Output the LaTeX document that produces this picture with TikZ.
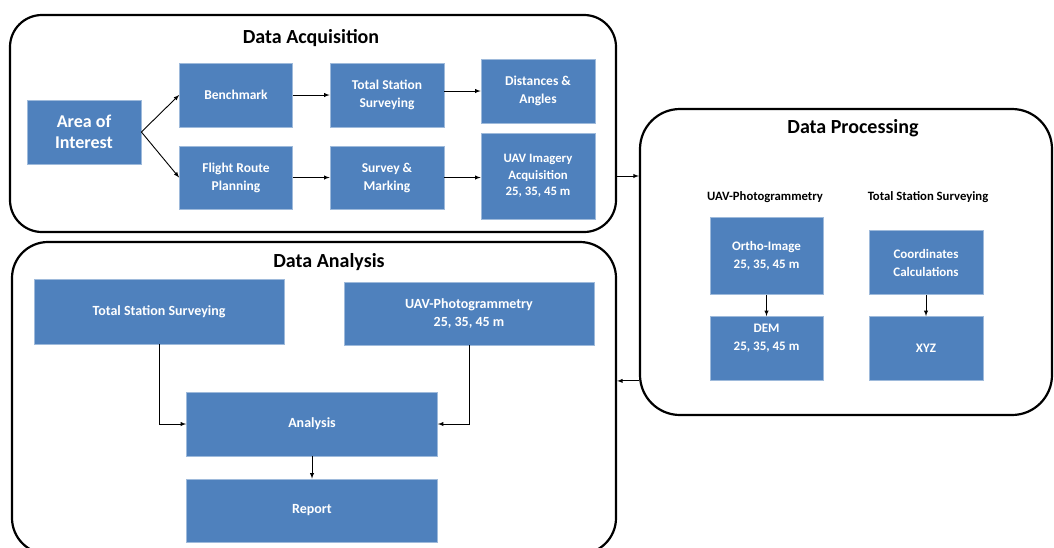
\documentclass[tikz,border=0pt]{standalone}
\usepackage{fontspec}
\setmainfont{Carlito}
\usetikzlibrary{arrows,shapes}
\usepackage{xcolor}
\definecolor{boxblue}{HTML}{4F81BD}

\begin{document}
\begin{tikzpicture}[x=1pt,y=-1pt]
\tikzstyle{every node}+=[inner sep=0pt]
\tikzstyle{stage}=[draw=black,line width=2.2pt,rounded corners=32pt]
\tikzstyle{blk}=[fill=boxblue,draw=boxblue!55!white,line width=0.8pt,text=white,align=center,font=\bfseries\fontsize{13.5}{18}\selectfont]
\tikzstyle{wide}=[blk,font=\bfseries\fontsize{14}{18}\selectfont]
\tikzstyle{ttl}=[font=\bfseries\fontsize{20}{24}\selectfont]
\tikzstyle{sub}=[font=\bfseries\fontsize{12.7}{15}\selectfont]
\tikzstyle{lnk}=[->,>=latex,line width=0.9pt]
\useasboundingbox (0,0) rectangle (1054,547);
\node [stage,minimum width=606,minimum height=217] (acq) at (313,123.5) {};
\node [stage,minimum width=412,minimum height=306,rounded corners=40pt] (proc) at (846,262) {};
\node [stage,minimum width=604,minimum height=312,rounded corners=36pt] (ana) at (314,398) {};
\node [ttl] (acqt) at (311,38) {Data Acquisition};
\node [ttl] (proct) at (853,128) {Data Processing};
\node [ttl] (anat) at (329,262) {Data Analysis};
\node [blk,minimum width=114,minimum height=64,font=\bfseries\fontsize{18}{21}\selectfont] (aoi) at (84,132) {Area of\\Interest};
\node [blk,minimum width=113,minimum height=64] (bench) at (236,95) {Benchmark};
\node [blk,minimum width=113,minimum height=63] (flight) at (236,177.5) {Flight Route\\Planning};
\node [blk,minimum width=114,minimum height=64] (tss) at (387,95) {Total Station\\Surveying};
\node [blk,minimum width=114,minimum height=63] (survey) at (387,177.5) {Survey \&\\Marking};
\node [blk,minimum width=114,minimum height=64] (dist) at (538,91) {Distances \&\\Angles};
\node [blk,minimum width=114,minimum height=86,font=\bfseries\fontsize{12.8}{16.5}\selectfont] (uavimg) at (538,176) {UAV Imagery\\Acquisition\\25, 35, 45 m};
\node [sub] (uavt) at (765,197) {UAV-Photogrammetry};
\node [sub] (tsst) at (928,197) {Total Station Surveying};
\node [blk,minimum width=113,minimum height=77,font=\bfseries\fontsize{13}{18}\selectfont] (ortho) at (766.5,256) {Ortho-Image\\25, 35, 45 m};
\node [blk,minimum width=113,minimum height=64,font=\bfseries\fontsize{13}{18}\selectfont] (dem) at (766.5,348.5) {DEM\\25, 35, 45 m\\\strut};
\node [blk,minimum width=114,minimum height=64,font=\bfseries\fontsize{13}{18}\selectfont] (coord) at (926,262.5) {Coordinates\\Calculations};
\node [blk,minimum width=114,minimum height=64,font=\bfseries\fontsize{13}{18}\selectfont] (xyz) at (926,348.5) {XYZ};
\node [wide,minimum width=250,minimum height=65] (tssa) at (159,311.5) {Total Station Surveying};
\node [wide,minimum width=250,minimum height=63] (uava) at (469,313.5) {UAV-Photogrammetry\\25, 35, 45 m};
\node [wide,minimum width=251,minimum height=64] (anly) at (312,424) {Analysis};
\node [wide,minimum width=251,minimum height=63] (rep) at (312,510.5) {Report};
\draw [lnk] (aoi.east) -- (bench.west);
\draw [lnk] (aoi.east) -- (flight.west);
\draw [lnk] (bench.east) -- (tss.west);
\draw [lnk] (tss.east |- dist.west) -- (dist.west);
\draw [lnk] (flight.east) -- (survey.west);
\draw [lnk] (survey.east) -- (uavimg.west |- survey.east);
\draw [lnk] (acq.east |- uavimg) -- (proc.west |- uavimg);
\draw [lnk] (ortho.south) -- (dem.north);
\draw [lnk] (coord.south) -- (xyz.north);
\draw [lnk] (proc.west |- dem.south) -- (ana.east |- dem.south);
\draw [lnk] (tssa.south) |- (anly.west);
\draw [lnk] (uava.south) |- (anly.east);
\draw [lnk] (anly.south) -- (rep.north);
\end{tikzpicture}
\end{document}
